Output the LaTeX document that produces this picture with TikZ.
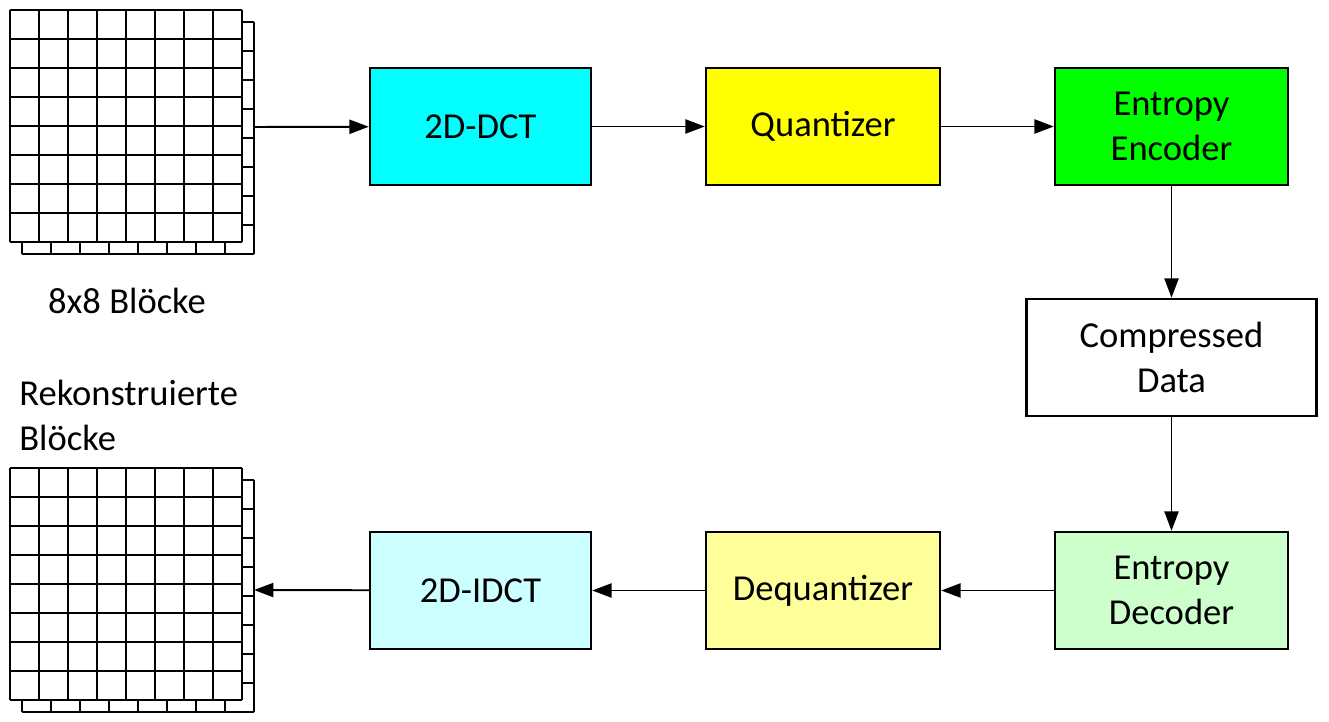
\documentclass[tikz,border=0pt]{standalone}
\usepackage{fontspec}
\setmainfont{Carlito}
\usepackage{tikz}
\usetikzlibrary{arrows.meta}

\definecolor{dctcol}{RGB}{0,255,255}
\definecolor{quantcol}{RGB}{255,255,0}
\definecolor{enccol}{RGB}{0,255,0}
\definecolor{deccol}{RGB}{204,255,204}
\definecolor{dequantcol}{RGB}{255,255,153}
\definecolor{idctcol}{RGB}{204,255,255}

\begin{document}
\begin{tikzpicture}[x=0.02cm,y=-0.02cm,
    font=\fontsize{20.8}{25.5}\selectfont,
    box/.style={draw,line width=1.4pt,minimum height=2.34cm,align=center,inner sep=0pt},
    flow/.style={line width=1.1pt,-{Triangle[length=11pt,width=8pt]}},
    cell/.style={line width=0.8pt}]
  \useasboundingbox (0,0) rectangle (1329,722);

  % block stacks (back layer, then front layer)
  \foreach \oy in {0,458} {
    \foreach \d/\ox in {12/12,0/0} {
      \fill[white] (10+\ox,10+\oy+\d) rectangle (242+\ox,242+\oy+\d);
      \foreach \k in {0,...,8} {
        \draw[cell] (10+\ox+29*\k,10+\oy+\d) -- (10+\ox+29*\k,242+\oy+\d);
        \draw[cell] (10+\ox,10+\oy+\d+29*\k) -- (242+\ox,10+\oy+\d+29*\k);
      }
    }
  }
  \coordinate (inblk) at (254,127);
  \coordinate (outblk) at (254,590);

  \node at (127,301) {8x8 Blöcke};
  \node[anchor=north west,align=left,inner sep=0pt] at (19,380) {Rekonstruierte\\Blöcke};

  % encoder
  \node[box,fill=dctcol,minimum width=4.42cm] (dct) at (480.5,126.5) {2D-DCT};
  \node[box,fill=quantcol,minimum width=4.68cm] (quant) at (823,126.5) {Quantizer};
  \node[box,fill=enccol,minimum width=4.66cm] (enc) at (1171.5,126.5) {Entropy\\Encoder};
  \node[box,minimum width=5.8cm] (data) at (1171.5,357.5) {Compressed\\Data};

  % decoder
  \node[box,fill=deccol,minimum width=4.66cm] (dec) at (1171.5,590.5) {Entropy\\Decoder};
  \node[box,fill=dequantcol,minimum width=4.68cm] (dequant) at (823,590.5) {Dequantizer};
  \node[box,fill=idctcol,minimum width=4.42cm] (idct) at (480.5,590.5) {2D-IDCT};

  \draw[flow] (inblk) -- (dct);
  \draw[flow] (dct) -- (quant);
  \draw[flow] (quant) -- (enc);
  \draw[flow] (enc) -- (data);
  \draw[flow] (data) -- (dec);
  \draw[flow] (dec) -- (dequant);
  \draw[flow] (dequant) -- (idct);
  \draw[flow] (idct) -- (outblk);
\end{tikzpicture}
\end{document}
